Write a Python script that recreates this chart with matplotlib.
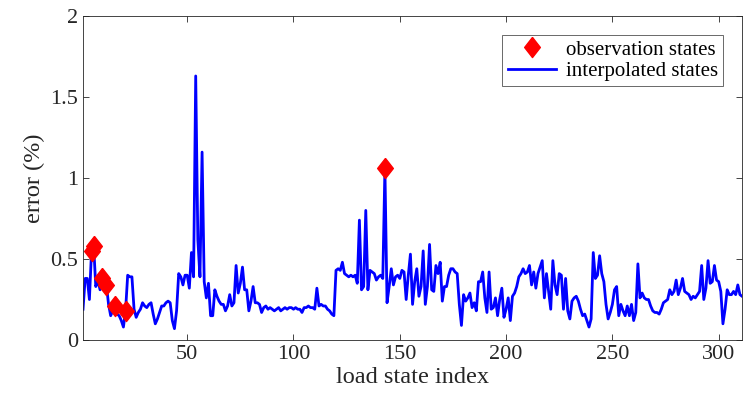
import numpy as np
import matplotlib.pyplot as plt

plt.rcParams['font.family'] = ['Liberation Serif', 'DejaVu Serif']

# interpolated error per load state
err_vals = [
    0.19, 0.38, 0.38, 0.25, 0.55, 0.58, 0.33, 0.37, 0.31, 0.38,
    0.36, 0.34, 0.22, 0.15, 0.18, 0.21, 0.16, 0.15, 0.12, 0.08,
    0.18, 0.40, 0.39, 0.39, 0.19, 0.14, 0.17, 0.19, 0.23, 0.21,
    0.20, 0.22, 0.23, 0.16, 0.10, 0.13, 0.17, 0.21, 0.21, 0.23,
    0.24, 0.23, 0.12, 0.07, 0.18, 0.41, 0.39, 0.34, 0.40, 0.40,
    0.32, 0.54, 0.39, 1.63, 0.62, 0.39, 1.16, 0.36, 0.26, 0.35,
    0.15, 0.15, 0.31, 0.27, 0.24, 0.22, 0.22, 0.18, 0.21, 0.28,
    0.21, 0.23, 0.46, 0.29, 0.35, 0.45, 0.31, 0.31, 0.18, 0.24,
    0.33, 0.23, 0.23, 0.22, 0.17, 0.20, 0.21, 0.19, 0.20, 0.19,
    0.18, 0.19, 0.20, 0.18, 0.19, 0.20, 0.19, 0.20, 0.20, 0.19,
    0.20, 0.19, 0.19, 0.17, 0.20, 0.20, 0.21, 0.20, 0.20, 0.19,
    0.32, 0.21, 0.22, 0.21, 0.21, 0.19, 0.18, 0.16, 0.15, 0.43,
    0.44, 0.43, 0.48, 0.41, 0.40, 0.39, 0.40, 0.39, 0.40, 0.35,
    0.74, 0.31, 0.33, 0.80, 0.31, 0.43, 0.42, 0.41, 0.37, 0.39,
    0.40, 0.38, 1.06, 0.23, 0.33, 0.44, 0.34, 0.39, 0.40, 0.38,
    0.43, 0.42, 0.25, 0.40, 0.53, 0.22, 0.36, 0.44, 0.27, 0.33,
    0.55, 0.22, 0.33, 0.59, 0.31, 0.30, 0.46, 0.41, 0.48, 0.24,
    0.33, 0.33, 0.40, 0.44, 0.44, 0.42, 0.41, 0.22, 0.09, 0.28,
    0.24, 0.26, 0.29, 0.20, 0.23, 0.18, 0.36, 0.36, 0.42, 0.26,
    0.17, 0.42, 0.19, 0.20, 0.26, 0.15, 0.25, 0.32, 0.14, 0.19,
    0.26, 0.12, 0.27, 0.29, 0.33, 0.39, 0.41, 0.44, 0.41, 0.42,
    0.46, 0.34, 0.42, 0.32, 0.41, 0.45, 0.49, 0.26, 0.41, 0.30,
    0.19, 0.49, 0.34, 0.28, 0.41, 0.40, 0.19, 0.38, 0.18, 0.13,
    0.24, 0.26, 0.27, 0.24, 0.19, 0.15, 0.16, 0.12, 0.08, 0.13,
    0.54, 0.38, 0.40, 0.52, 0.41, 0.36, 0.22, 0.13, 0.17, 0.22,
    0.31, 0.33, 0.15, 0.22, 0.18, 0.15, 0.21, 0.15, 0.22, 0.12,
    0.17, 0.47, 0.26, 0.29, 0.26, 0.25, 0.25, 0.21, 0.18, 0.17,
    0.17, 0.16, 0.19, 0.23, 0.24, 0.25, 0.31, 0.28, 0.30, 0.37,
    0.28, 0.32, 0.38, 0.30, 0.29, 0.28, 0.25, 0.27, 0.26, 0.28,
    0.30, 0.46, 0.25, 0.32, 0.49, 0.35, 0.36, 0.46, 0.37, 0.36,
    0.30, 0.10, 0.19, 0.31, 0.28, 0.28, 0.30, 0.28, 0.34, 0.28,
    0.27,
]
state_idx = np.arange(1, len(err_vals) + 1)

# observation states
obs_idx = [5, 6, 10, 12, 16, 21, 143]
obs_err = [0.55, 0.58, 0.38, 0.34, 0.21, 0.18, 1.06]

x_ticks = [50, 100, 150, 200, 250, 300]
y_ticks = [0, 0.5, 1, 1.5, 2]
y_labels = ['0', '0.5', '1', '1.5', '2']

fig = plt.figure(figsize=(7.44, 4.07), dpi=100)
ax = fig.add_axes([0.1116, 0.1646, 0.8858, 0.796])

# MATLAB-like diamond (taller than wide)
diamond = [(0, 1), (0.78, 0), (0, -1), (-0.78, 0), (0, 1)]

ax.plot(obs_idx, obs_err, linestyle='none', marker=diamond, markersize=14.5,
        color='red', label='observation states', zorder=3)
ax.plot(state_idx, err_vals, color='blue', linewidth=2.0,
        label='interpolated states', zorder=2)

ax.set_xlim(1, 311)
ax.set_ylim(0, 2)
ax.set_xticks(x_ticks)
ax.set_yticks(y_ticks)
ax.set_yticklabels(y_labels)
ax.tick_params(direction='in', labelsize=16, top=True, right=True,
               colors='#262626', length=4, width=0.6)
for s in ax.spines.values():
    s.set_color('#262626')
    s.set_linewidth(0.6)

ax.set_xlabel('load state index', fontsize=17.5, color='#262626', labelpad=2)
ax.set_ylabel('error (%)', fontsize=17.5, color='#262626')

leg = ax.legend(loc='upper right', fontsize=15, frameon=True, fancybox=False,
                borderpad=0.25, handlelength=2.3, handletextpad=0.5,
                labelspacing=0.1, borderaxespad=0.9)
leg.get_frame().set_edgecolor('#262626')
leg.get_frame().set_linewidth(0.6)

fig.savefig('out.png', dpi=100)
